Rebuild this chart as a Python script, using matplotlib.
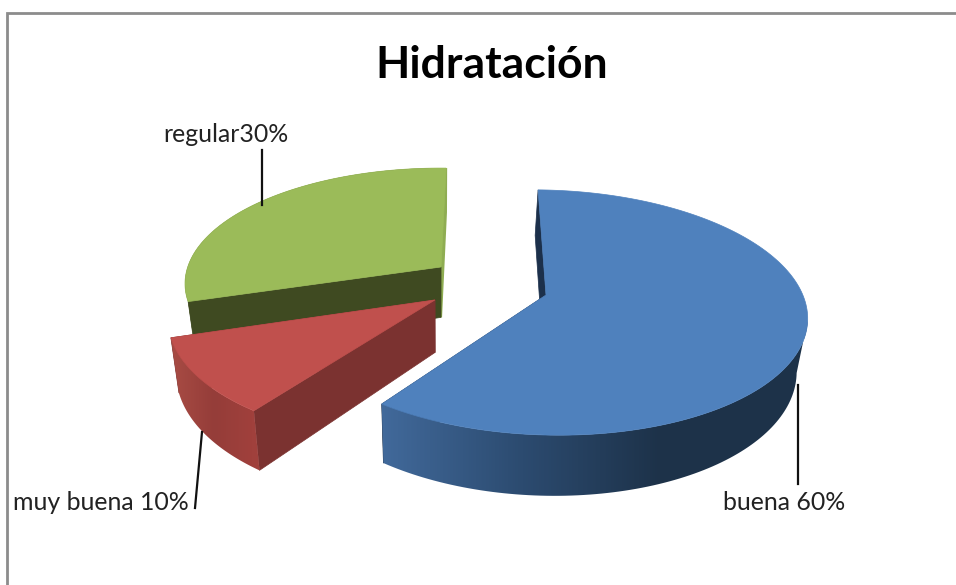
import numpy as np
import matplotlib
matplotlib.use("Agg")
import matplotlib.pyplot as plt
from matplotlib.colors import LinearSegmentedColormap
from matplotlib.patches import Polygon

# data
categories = ["buena", "muy buena", "regular"]
values = [60, 10, 30]
labels = ["buena 60%", "muy buena 10%", "regular30%"]
title = "Hidratación"

# pie look
top_colors = ["#4f81bd", "#c0504d", "#9bbb59"]
explode = [(0.0, 0.0), (-0.425, -0.062), (-0.418, 0.22)]
start_angle = -2
cx, cy = 546, 295
rx, ry = 259, 120
persp = 0.143
shear = 6
height = 52
vanish_x, squeeze = 440, 0.03

blue_wall = LinearSegmentedColormap.from_list("b", ["#41699a", "#2c4b70", "#1d3249", "#1d3249"])
red_wall = LinearSegmentedColormap.from_list("r", ["#a64a43", "#953d39", "#a0403c"])
green_wall = LinearSegmentedColormap.from_list("g", [(0, "#3f4a21"), (0.93, "#3f4a21"), (0.95, "#8fad52"), (1, "#8fad52")])
outer_walls = [(blue_wall, 383, 800), (red_wall, 176, 252), (green_wall, 180, 445)]
start_walls = ["#1c304b", "#7b3230", "#3f4a21"]
end_walls = ["#1c304b", "#7b3230", "#8fad52"]


def project(x, y, low=False):
    d = 1 + persp * y
    sx = cx + rx * x / d
    sy = cy + (-ry * y + shear * x) / d
    if low:
        sx = sx - squeeze * (sx - vanish_x)
        sy = sy + height / d
    return np.column_stack([sx, sy])


fig = plt.figure(figsize=(9.56, 5.85), dpi=100)
ax = fig.add_axes([0, 0, 1, 1])
ax.axis("off")

# frame of the chart, open at right and bottom
ax.plot([7, 7, 956], [585, 13, 13], color="#8c8c8c", lw=2, solid_joinstyle="miter")

# angles run clockwise from the back of the pie
edges = start_angle + np.cumsum([0] + values) * 360 / sum(values)
z = 2

for i in [2, 1, 0]:
    ex, ey = explode[i]
    t = np.radians(np.linspace(edges[i], edges[i + 1], 181))
    x = ex + np.sin(t)
    y = ey + np.cos(t)
    top = project(x, y)
    low = project(x, y, low=True)
    apex = project(np.array([ex]), np.array([ey]))
    apex_low = project(np.array([ex]), np.array([ey]), low=True)

    # flat cut faces
    ax.add_patch(Polygon(np.vstack([apex, top[-1:], low[-1:], apex_low]), zorder=z,
                         fc=end_walls[i], ec=end_walls[i], lw=1.5 if i == 2 else 0.5))
    ax.add_patch(Polygon(np.vstack([apex, top[:1], low[:1], apex_low]), zorder=z + 1,
                         fc=start_walls[i], ec=start_walls[i], lw=0.5))

    # rim with a left to right shading, cut to its outline
    # only the part from the widest point on, the back would fold the outline over itself
    s = 0 if i == 2 else np.argmax(top[:, 0])
    cmap, x0, x1 = outer_walls[i]
    ramp = np.clip((np.arange(956) + 0.5 - x0) / (x1 - x0), 0, 1).reshape(1, -1)
    rim = Polygon(np.vstack([top[s:], low[s:][::-1]]), fc="none", ec="none")
    ax.add_patch(rim)
    im = ax.imshow(ramp, cmap=cmap, vmin=0, vmax=1, extent=(0, 956, 585, 0), aspect="auto", zorder=z + 2)
    im.set_clip_path(rim)

    ax.add_patch(Polygon(np.vstack([apex, top]), fc=top_colors[i], ec=top_colors[i], lw=0.5, zorder=z + 3))
    z += 4

ax.set_xlim(0, 956)
ax.set_ylim(585, 0)

# leader lines
ax.plot([262, 262], [150, 205], color="#111111", lw=1.6, zorder=50)
ax.plot([202, 195], [432, 508], color="#111111", lw=1.6, zorder=50)
ax.plot([798, 798], [385, 484], color="#111111", lw=1.6, zorder=50)

ax.text(492, 65, title, ha="center", va="center", fontsize=32, fontweight="bold", family="Lato", color="black")
ax.text(226, 134, labels[2], ha="center", va="center", fontsize=17.9, family="Lato", color="#222222")
ax.text(101, 502, labels[1], ha="center", va="center", fontsize=17.9, family="Lato", color="#222222")
ax.text(784, 502, labels[0], ha="center", va="center", fontsize=17.9, family="Lato", color="#222222")

fig.savefig("out.png", dpi=100)
